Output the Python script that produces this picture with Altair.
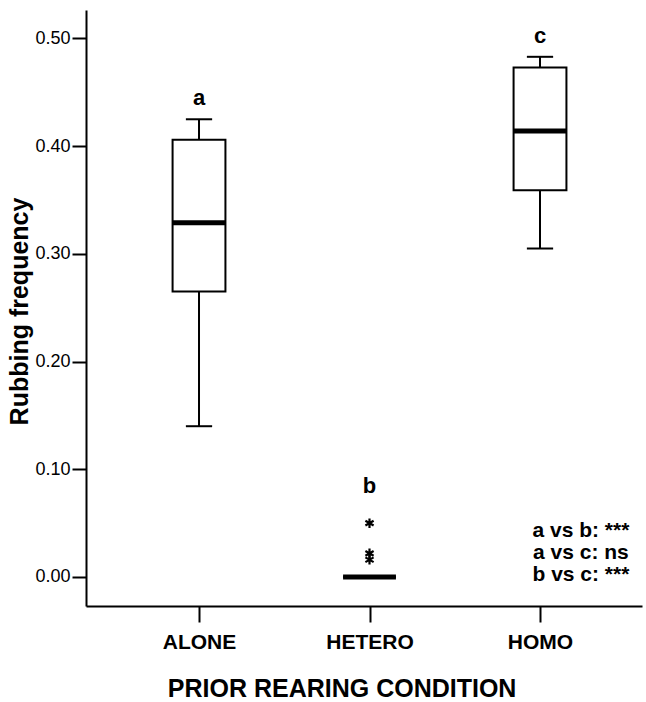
import altair as alt
import pandas as pd

# ---- data ----
groups = ["ALONE", "HETERO", "HOMO"]
whisker_low = [0.140, 0.000, 0.305]
quartile1 = [0.265, 0.000, 0.359]
medians = [0.329, 0.000, 0.414]
quartile3 = [0.406, 0.000, 0.473]
whisker_high = [0.425, 0.000, 0.483]

outlier_group = ["HETERO", "HETERO", "HETERO"]
outlier_values = [0.050, 0.022, 0.016]

group_letters = ["a", "b", "c"]
letter_y = [0.438, 0.078, 0.496]

comparisons = ["a vs b: ***", "a vs c: ns", "b vs c: ***"]
comparison_y = [0.0371, 0.0167, -0.0037]

y_ticks = [0.0, 0.1, 0.2, 0.3, 0.4, 0.5]

# ---- layout constants ----
FONT = "Liberation Sans, Arial, Helvetica, sans-serif"
BOX_HALF = 0.155
CAP_HALF = 0.077
COMP_X = 3.24

pos = {g: i + 1 for i, g in enumerate(groups)}

box = pd.DataFrame({
    "group": groups,
    "pos": [pos[g] for g in groups],
    "lo": whisker_low,
    "q1": quartile1,
    "med": medians,
    "q3": quartile3,
    "hi": whisker_high,
})
box["xl"] = box["pos"] - BOX_HALF
box["xr"] = box["pos"] + BOX_HALF
box["cl"] = box["pos"] - CAP_HALF
box["cr"] = box["pos"] + CAP_HALF

outl = pd.DataFrame({"pos": [pos[g] for g in outlier_group], "v": outlier_values})
letters = pd.DataFrame({"pos": [pos[g] for g in groups], "y": letter_y, "t": group_letters})
comp = pd.DataFrame({"x": [COMP_X] * 3, "y": comparison_y, "t": comparisons})

xs = alt.Scale(domain=[0.3372, 3.5982], nice=False, zero=False)
ys = alt.Scale(domain=[-0.02693, 0.52646], nice=False, zero=False)

x_axis = alt.Axis(
    values=[1, 2, 3],
    labelExpr="['', 'ALONE', 'HETERO', 'HOMO'][datum.value]",
    title="PRIOR REARING CONDITION",
    titleFontSize=25, titleFontWeight="bold", titleFont=FONT, titleColor="black",
    titleX=255.6, titleY=90, titleBaseline="alphabetic", titleAlign="center",
    labelFontSize=21, labelFontWeight="bold", labelFont=FONT, labelColor="black",
    labelPadding=9, tickSize=16, tickWidth=2, tickColor="black",
    domainColor="black", domainWidth=2, grid=False,
)
y_axis = alt.Axis(
    values=y_ticks, format=".2f",
    title="Rubbing frequency",
    titleFontSize=25, titleFontWeight="bold", titleFont=FONT, titleColor="black",
    titleAngle=270, titleX=-59, titleY=301, titleBaseline="alphabetic", titleAlign="center",
    labelFontSize=18, labelFont=FONT, labelColor="black", labelPadding=2,
    tickSize=14, tickWidth=2, tickColor="black",
    domainColor="black", domainWidth=2, grid=False,
)


def X(field):
    return alt.X(field, scale=xs, axis=x_axis)


def Y(field):
    return alt.Y(field, scale=ys, axis=y_axis)


whiskers = alt.Chart(box).mark_rule(color="black", strokeWidth=2).encode(
    x=X("pos:Q"), y=Y("lo:Q"), y2="hi:Q",
)
boxes = alt.Chart(box).mark_rect(fill="white", stroke="black", strokeWidth=2).encode(
    x=X("xl:Q"), x2="xr:Q", y=Y("q1:Q"), y2="q3:Q",
)
cap_hi = alt.Chart(box).mark_rule(color="black", strokeWidth=2).encode(
    x=X("cl:Q"), x2="cr:Q", y=Y("hi:Q"),
)
cap_lo = alt.Chart(box).mark_rule(color="black", strokeWidth=2).encode(
    x=X("cl:Q"), x2="cr:Q", y=Y("lo:Q"),
)
med = alt.Chart(box).mark_rule(color="black", strokeWidth=5).encode(
    x=X("xl:Q"), x2="xr:Q", y=Y("med:Q"),
)
ASTERISK = "M0,-1L0,1M-0.866,-0.5L0.866,0.5M-0.866,0.5L0.866,-0.5"
outliers = alt.Chart(outl).mark_point(
    shape=ASTERISK, size=90, filled=False, stroke="black", strokeWidth=2.2, opacity=1
).encode(
    x=X("pos:Q"), y=Y("v:Q"),
)
letter_text = alt.Chart(letters).mark_text(
    font=FONT, fontSize=22, fontWeight="bold", align="center", baseline="alphabetic", color="black"
).encode(
    x=X("pos:Q"), y=Y("y:Q"), text="t:N",
)
comp_text = alt.Chart(comp).mark_text(
    font=FONT, fontSize=21, fontWeight="bold", align="center", baseline="alphabetic", color="black"
).encode(
    x=X("x:Q"), y=Y("y:Q"), text="t:N",
)

chart = alt.layer(
    whiskers, boxes, cap_hi, cap_lo, med, outliers, letter_text, comp_text
).properties(
    width=556, height=596,
    padding={"left": 86, "top": 10, "right": 4, "bottom": 96},
    autosize=alt.AutoSizeParams(type="none"),
    background="white",
).configure_view(stroke=None)

chart.save("out.html", embed_options={"renderer": "svg", "actions": False})
